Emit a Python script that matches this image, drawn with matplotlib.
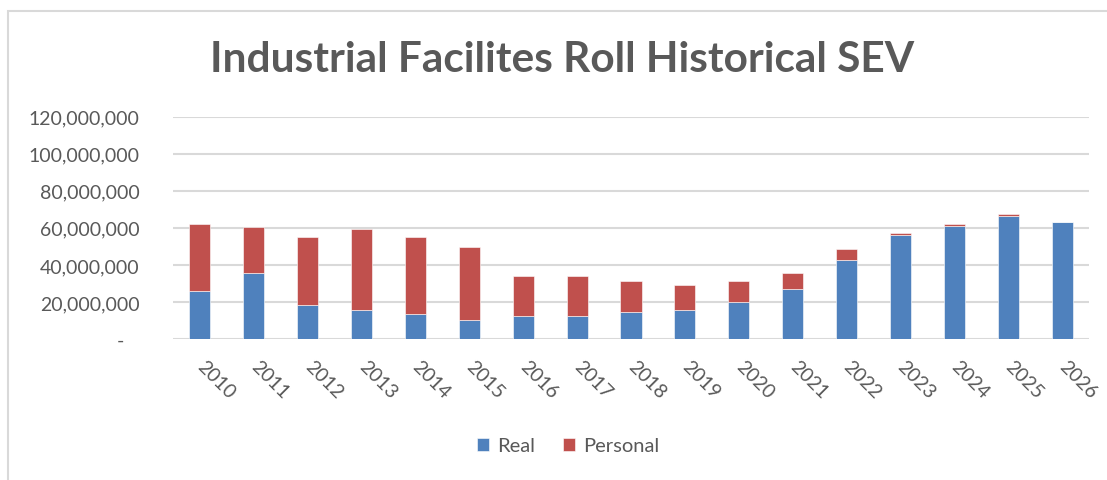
import matplotlib
matplotlib.use("Agg")
import matplotlib.pyplot as plt
from matplotlib.patches import Rectangle
from matplotlib.ticker import FuncFormatter, MultipleLocator
import numpy as np

years = ["2010", "2011", "2012", "2013", "2014", "2015", "2016", "2017", "2018",
         "2019", "2020", "2021", "2022", "2023", "2024", "2025", "2026"]
real = [25.7, 35.5, 18.5, 15.5, 13.3, 10.3, 12.3, 12.3, 14.4,
        15.5, 19.8, 26.8, 42.5, 56.0, 61.1, 66.4, 63.3]
total = [62.2, 60.3, 55.0, 59.2, 55.0, 49.8, 34.2, 34.2, 31.1,
         29.0, 31.1, 35.5, 48.7, 57.2, 62.2, 67.5, 63.3]
real_vals = np.array(real) * 1e6
personal_vals = (np.array(total) - np.array(real)) * 1e6

title = "Industrial Facilites Roll Historical SEV"
blue = "#4F81BD"
red = "#C0504D"
gray_text = "#595959"
grid_col = "#D9D9D9"

plt.rcParams['font.family'] = ['Lato', 'DejaVu Sans']

W, H = 1107, 481
fig = plt.figure(figsize=(W / 100, H / 100), dpi=100)
fig.patches.append(Rectangle((8 / W, -0.2), 1.2, (H - 12) / H + 0.2, transform=fig.transFigure,
                             fill=False, edgecolor=grid_col, linewidth=1.5))

ax = fig.add_axes([173 / W, 1 - 340 / H, (1089 - 173) / W, (340 - 117.7) / H])
x = np.arange(len(years))
ax.bar(x, real_vals, width=0.39, color=blue, edgecolor="white", linewidth=0.4,
       label="Real", zorder=3)
ax.bar(x, personal_vals, width=0.39, bottom=real_vals, color=red, edgecolor="white",
       linewidth=0.4, label="Personal", zorder=3)

ax.set_xlim(-0.5, len(years) - 0.5)
ax.set_ylim(0, 120e6)
ax.yaxis.set_major_locator(MultipleLocator(20e6))
ax.yaxis.set_major_formatter(FuncFormatter(lambda v, p: "-   " if v == 0 else f"{v:,.0f}"))
ax.grid(axis="y", color=grid_col, linewidth=1.5, zorder=0)
for s in ax.spines.values():
    s.set_visible(False)
ax.tick_params(axis="both", length=0, colors=gray_text, labelsize=14)
ax.tick_params(axis="y", pad=24)
ax.set_xticks(x)
ax.set_xticklabels(years, rotation=-45, ha="left", va="center", rotation_mode="anchor")
ax.tick_params(axis="x", pad=17)

fig.text(0.508, 1 - 60 / H, title, ha="center", va="center", fontsize=30.5,
         fontweight="bold", color=gray_text)

handles, labels = ax.get_legend_handles_labels()
fig.legend(handles, labels, loc="center", bbox_to_anchor=(0.513, 1 - 447 / H), ncol=2,
           frameon=False, fontsize=14.5, labelcolor=gray_text, handlelength=0.6,
           handleheight=0.6, handletextpad=0.4, columnspacing=1.4)

fig.savefig("out.png", dpi=100, facecolor="white")
